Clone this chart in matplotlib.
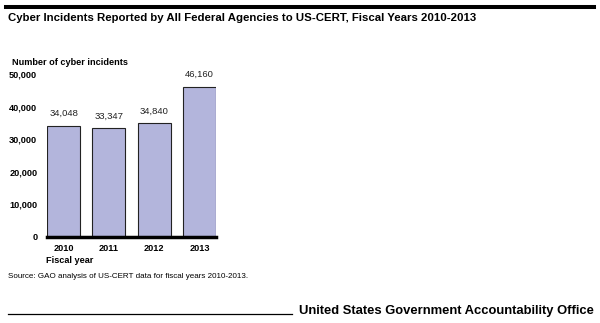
import matplotlib
matplotlib.use("Agg")
import matplotlib.pyplot as plt

plt.rcParams["font.family"] = ["Liberation Sans", "DejaVu Sans"]

# --- Data ---
years = ["2010", "2011", "2012", "2013"]
incidents = [34048, 33347, 34840, 46160]
yticks = [0, 10000, 20000, 30000, 40000, 50000]

W, H = 600, 323
fig = plt.figure(figsize=(W / 100, H / 100), dpi=100)

# axes placed in pixel terms
left, right, top, base = 47, 216, 74, 237
ax = fig.add_axes([left / W, (H - base) / H, (right - left) / W, (base - top) / H])

x = range(len(years))
ax.bar(x, incidents, width=0.73, color="#b3b5dc", edgecolor="#222222", linewidth=0.8)
for xi, v in zip(x, incidents):
    ax.text(xi, v + 2400, f"{v:,}", ha="center", va="bottom", fontsize=6.8, color="#222222")

ax.set_xlim(-0.365, 3.365)
ax.set_ylim(0, 50000)
ax.set_yticks(yticks)
ax.set_yticklabels([f"{t:,}" for t in yticks], fontsize=6.6, fontweight="bold")
ax.set_xticks(list(x))
ax.set_xticklabels(years, fontsize=6.6, fontweight="bold")
ax.tick_params(axis="y", length=0, pad=7)
ax.tick_params(axis="x", length=0, pad=5)
for s in ["top", "right", "left"]:
    ax.spines[s].set_visible(False)
ax.spines["bottom"].set_linewidth(2.5)
ax.spines["bottom"].set_color("black")

# --- Frame text ---
fig.add_artist(plt.Line2D([6 / W, 594 / W], [1 - 7 / H, 1 - 7 / H], color="black", linewidth=2.9))
fig.text(8 / W, 1 - 21 / H, "Cyber Incidents Reported by All Federal Agencies to US-CERT, Fiscal Years 2010-2013",
         fontsize=8.2, fontweight="bold", va="baseline", ha="left")
fig.text(12 / W, 1 - 65 / H, "Number of cyber incidents", fontsize=6.6, fontweight="bold", va="baseline")
fig.text(46 / W, 1 - 263 / H, "Fiscal year", fontsize=6.6, fontweight="bold", va="baseline")
fig.text(8 / W, 1 - 278 / H, "Source: GAO analysis of US-CERT data for fiscal years 2010-2013.",
         fontsize=5.8, va="baseline")
fig.add_artist(plt.Line2D([8 / W, 292 / W], [1 - 314 / H, 1 - 314 / H], color="black", linewidth=0.9))
fig.text(594 / W, 1 - 314 / H, "United States Government Accountability Office",
         fontsize=9.4, fontweight="bold", va="baseline", ha="right")

fig.savefig("out.png", dpi=100)
